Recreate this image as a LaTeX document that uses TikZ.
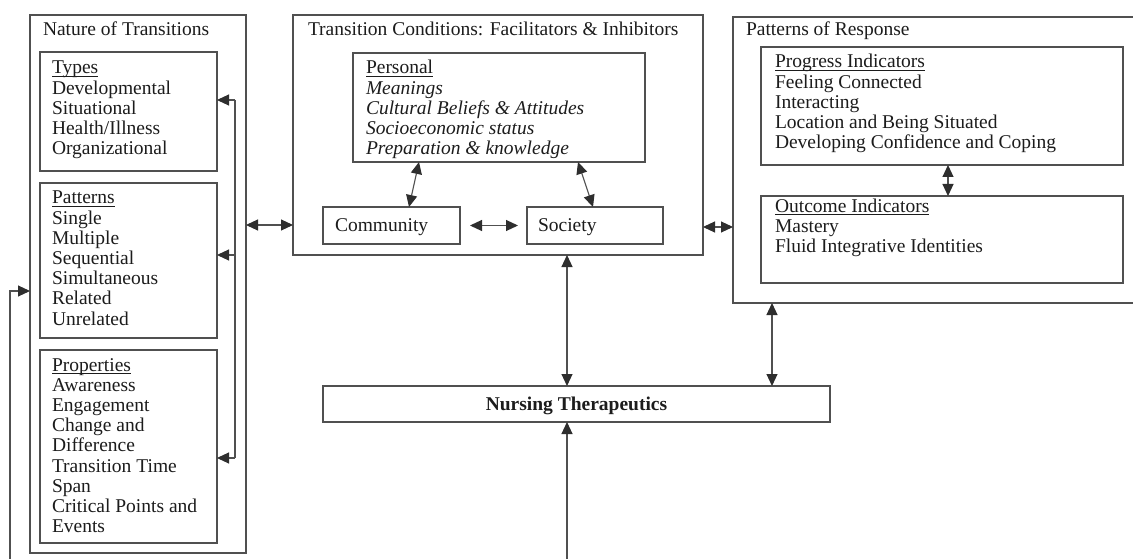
\documentclass[tikz,border=0pt]{standalone}
\usepackage{fontspec}
\setmainfont{Liberation Serif}
\usetikzlibrary{arrows.meta}
\definecolor{ln}{HTML}{505050}
\definecolor{tx}{HTML}{1C1C1C}
\definecolor{ah}{HTML}{2E2E2E}
\newcommand\ulx[1]{\leavevmode\setbox0\hbox{#1}\rlap{\rule[-2.6pt]{\wd0}{0.8pt}}\box0}
\newcommand\lines[1]{\begin{tabular}[t]{@{}l@{}}#1\end{tabular}}
\begin{document}
\begin{tikzpicture}[x=1pt,y=-1pt,
  box/.style={draw=ln,line width=1.1pt,rectangle,inner sep=0pt,outer sep=0pt,anchor=north west},
  txt/.style={anchor=base west,inner sep=0pt,outer sep=0pt,text=tx,font=\fontsize{19.5pt}{20.2pt}\selectfont},
  arr/.style={draw=ln,line width=1.1pt,-{Triangle[length=12pt,width=11pt,color=ah]}},
  arrs/.style={draw=ln,line width=1.1pt,{Triangle[length=12pt,width=11pt,color=ah]}-{Triangle[length=12pt,width=11pt,color=ah]}},
  plain/.style={draw=ln,line width=1.1pt}
]
\useasboundingbox (0,0) rectangle (1133,559);
\fill[white] (0,0) rectangle (1133,559);
\clip (0,0) rectangle (1133,559);

% ---- boxes
\node[box,minimum width=216,minimum height=538] (nature) at (30,15) {};
\node[box,minimum width=177,minimum height=119] (types) at (40,52) {};
\node[box,minimum width=177,minimum height=155] (patterns) at (40,183) {};
\node[box,minimum width=177,minimum height=193] (props) at (40,350) {};
\node[box,minimum width=410,minimum height=240] (tc) at (293,15) {};
\node[box,minimum width=292,minimum height=109] (personal) at (353,53) {};
\node[box,minimum width=137,minimum height=37] (community) at (323,207) {};
\node[box,minimum width=136,minimum height=37] (society) at (527,207) {};
\node[box,minimum width=420,minimum height=286] (por) at (733,17) {};
\node[box,minimum width=362,minimum height=118] (progress) at (761,47) {};
\node[box,minimum width=362,minimum height=87] (outcome) at (761,196) {};
\node[box,minimum width=507,minimum height=36] (nt) at (323,386) {};

% ---- texts
\node[txt] (natureT) at (43,36) {Nature of Transitions};
\node[txt] (typesT) at (52,74) {\lines{\ulx{Types}\\Developmental\\Situational\\Health/Illness\\Organizational}};
\node[txt] (patternsT) at (52,204) {\lines{\ulx{Patterns}\\Single\\Multiple\\Sequential\\Simultaneous\\Related\\Unrelated}};
\node[txt] (propsT) at (52,371) {\lines{\ulx{Properties}\\Awareness\\Engagement\\Change and\\Difference\\Transition Time\\Span\\Critical Points and\\Events}};
\node[txt] (tcT) at (308,36) {Transition Conditions: Facilitators \& Inhibitors};
\node[txt] (personalT) at (366,74) {\lines{\ulx{Personal}\\\itshape Meanings\\\itshape Cultural Beliefs \& Attitudes\\\itshape Socioeconomic status\\\itshape Preparation \& knowledge}};
\node[txt] (communityT) at (335,231) {Community};
\node[txt] (societyT) at (538,231) {Society};
\node[txt] (porT) at (746,36) {Patterns of Response};
\node[txt] (progressT) at (775,68) {\lines{\ulx{Progress Indicators}\\Feeling Connected\\Interacting\\Location and Being Situated\\Developing Confidence and Coping}};
\node[txt] (outcomeT) at (775,212) {\lines{\ulx{Outcome Indicators}\\Mastery\\Fluid Integrative Identities}};
\node[txt,anchor=base] (ntT) at (576.5,410) {\bfseries Nursing Therapeutics};

% ---- bracket on the right of Nature of Transitions
\coordinate (brTop) at (235,100);
\coordinate (brMid) at (235,255);
\coordinate (brBot) at (235,458);
\draw[plain] (brTop) -- (brBot);
\draw[arr] (brTop) -- (brTop -| types.east);
\draw[arr] (brMid) -- (brMid -| patterns.east);
\draw[arr] (brBot) -- (brBot -| props.east);

% ---- feedback loop on the left
\coordinate (fbA) at (10,575);
\coordinate (fbB) at (10,291);
\draw[arr] (fbA) -- (fbB) -- (fbB -| nature.west);

% ---- connectors between the main blocks
\draw[arrs] (nature.east |- 0,225) -- (tc.west |- 0,225);
\draw[arrs] (tc.east |- 0,227) -- (por.west |- 0,227);
\draw[arrs] (personal.south -| 419,0) -- (community.north -| 409,0);
\draw[arrs] (personal.south -| 578,0) -- (society.north -| 593,0);
\draw[arrs] ([xshift=10]community.east) -- ([xshift=-9]society.west);
\draw[arrs] (progress.south -| 948,0) -- (outcome.north -| 948,0);
\draw[arrs] (tc.south -| 567,0) -- (nt.north -| 567,0);
\draw[arrs] (por.south -| 772,0) -- (nt.north -| 772,0);
\coordinate (btm) at (567,575);
\draw[arr] (btm) -- (nt.south -| btm);
\end{tikzpicture}
\end{document}
